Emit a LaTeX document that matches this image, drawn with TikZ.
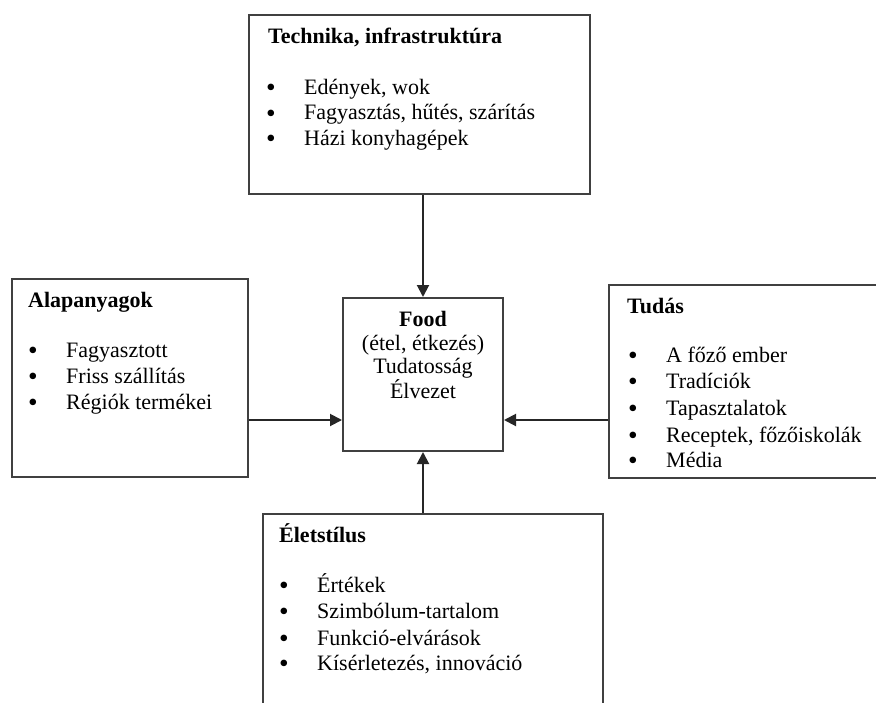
\documentclass[tikz,border=0pt]{standalone}
\usepackage{fontspec}
\setmainfont{Liberation Serif}
\usetikzlibrary{positioning, arrows.meta, calc}

\newcommand{\bul}{\makebox[38pt][l]{\raisebox{-2.5pt}{\scalebox{1.25}{\textbullet}}}}

\begin{document}
\begin{tikzpicture}[
 x=1pt, y=-1pt,
 box/.style={draw=black!75, line width=2pt, rectangle, anchor=north west, inner sep=0pt},
 heading/.style={anchor=base west, inner sep=0pt, font=\fontsize{22}{26}\selectfont\bfseries},
 item/.style={anchor=base west, inner sep=0pt, font=\fontsize{22}{26}\selectfont},
 foodline/.style={anchor=base, inner sep=0pt, font=\fontsize{22}{26}\selectfont},
 arrow/.style={-{Triangle[length=12pt, width=12pt]}, line width=2pt, draw=black!85}
 ]
  \useasboundingbox (0,0) rectangle (876,702);
  \clip (0,0) rectangle (876,702);

  % Technika block (top)
  \node[box, minimum width=341pt, minimum height=179pt] (tech) at (248,14) {};
  \node[heading] (tech_head) at ($(tech.north west)+(20,29)$) {Technika, infrastruktúra};
  \node[item] (tech_1) at ($(tech.north west)+(18,80)$) {\bul Edények, wok};
  \node[item] (tech_2) at ($(tech.north west)+(18,105.5)$) {\bul Fagyasztás, hűtés, szárítás};
  \node[item] (tech_3) at ($(tech.north west)+(18,131)$) {\bul Házi konyhagépek};

  % Food block (centre)
  \node[box, minimum width=160pt, minimum height=153pt] (food) at (342,297) {};
  \node[foodline] (food_1) at ($(food.north)+(0,29)$) {\textbf{Food}};
  \node[foodline] (food_2) at ($(food.north)+(0,53)$) {(étel, étkezés)};
  \node[foodline] (food_3) at ($(food.north)+(0,76)$) {Tudatosság};
  \node[foodline] (food_4) at ($(food.north)+(0,101)$) {Élvezet};

  % Alapanyagok block (left)
  \node[box, minimum width=236pt, minimum height=198pt] (alap) at (11,278) {};
  \node[heading] (alap_head) at ($(alap.north west)+(17,29)$) {Alapanyagok};
  \node[item] (alap_1) at ($(alap.north west)+(17,79)$) {\bul Fagyasztott};
  \node[item] (alap_2) at ($(alap.north west)+(17,105)$) {\bul Friss szállítás};
  \node[item] (alap_3) at ($(alap.north west)+(17,131)$) {\bul Régiók termékei};

  % Tudas block (right)
  \node[box, minimum width=300pt, minimum height=193pt] (tudas) at (608,284) {};
  \node[heading] (tudas_head) at ($(tudas.north west)+(19,29)$) {Tudás};
  \node[item] (tudas_1) at ($(tudas.north west)+(20,78)$) {\bul A főző ember};
  \node[item] (tudas_2) at ($(tudas.north west)+(20,104)$) {\bul Tradíciók};
  \node[item] (tudas_3) at ($(tudas.north west)+(20,131)$) {\bul Tapasztalatok};
  \node[item] (tudas_4) at ($(tudas.north west)+(20,158)$) {\bul Receptek, főzőiskolák};
  \node[item] (tudas_5) at ($(tudas.north west)+(20,183)$) {\bul Média};

  % Eletstilus block (bottom)
  \node[box, minimum width=340pt, minimum height=230pt] (elet) at (262,513) {};
  \node[heading] (elet_head) at ($(elet.north west)+(17,29)$) {Életstílus};
  \node[item] (elet_1) at ($(elet.north west)+(17,79)$) {\bul Értékek};
  \node[item] (elet_2) at ($(elet.north west)+(17,105)$) {\bul Szimbólum-tartalom};
  \node[item] (elet_3) at ($(elet.north west)+(17,132)$) {\bul Funkció-elvárások};
  \node[item] (elet_4) at ($(elet.north west)+(17,157)$) {\bul Kísérletezés, innováció};

  % Arrow entry points on the food block
  \coordinate (in_left) at ($(food.south west)+(0,-32)$);
  \coordinate (in_right) at ($(food.south east)+(0,-32)$);

  % Arrows into food
  \draw[arrow] (tech.south -| food.north) -- (food.north);
  \draw[arrow] (alap.east |- in_left) -- (in_left);
  \draw[arrow] (tudas.west |- in_right) -- (in_right);
  \draw[arrow] (elet.north -| food.south) -- (food.south);

\end{tikzpicture}
\end{document}
